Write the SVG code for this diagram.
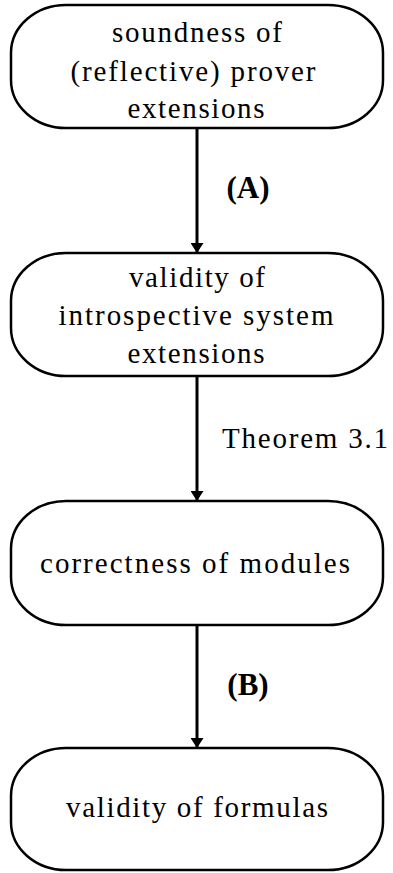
<svg xmlns="http://www.w3.org/2000/svg" width="393" height="873" viewBox="0 0 393 873">
<style>
.n{fill:#fff;stroke:#000;stroke-width:2.5}
.t{font-family:"Liberation Serif",serif;font-size:29px;text-anchor:middle;fill:#000}
.l{font-family:"Liberation Serif",serif;font-size:29px;fill:#000}
.b{font-weight:bold;text-anchor:middle;font-size:31px}
.e{stroke:#000;stroke-width:3;fill:none}
</style>
<defs>
<marker id="ah" viewBox="0 0 10 13" refX="10" refY="6.5" markerWidth="10" markerHeight="13" markerUnits="userSpaceOnUse" orient="auto">
<path d="M0,0 L10,6.5 L0,13 Z" fill="#000"/>
</marker>
</defs>
<rect width="393" height="873" fill="#fff"/>
<g id="edges">
<line class="e" x1="197" y1="128" x2="197" y2="253" marker-end="url(#ah)"/>
<line class="e" x1="197" y1="376" x2="197" y2="501" marker-end="url(#ah)"/>
<line class="e" x1="197" y1="625" x2="197" y2="748" marker-end="url(#ah)"/>
<text class="l b" x="248" y="198">(A)</text>
<text class="l" x="222" y="448" textLength="166" lengthAdjust="spacing">Theorem 3.1</text>
<text class="l b" x="248" y="695">(B)</text>
</g>
<g id="n1">
<rect class="n" x="11" y="5" width="372" height="123" rx="55" ry="48"/>
<text class="t" x="197" y="42" textLength="170" lengthAdjust="spacing">soundness of</text>
<text class="t" x="193" y="81" textLength="245" lengthAdjust="spacing">(reflective) prover</text>
<text class="t" x="196" y="118" textLength="137" lengthAdjust="spacing">extensions</text>
</g>
<g id="n2">
<rect class="n" x="11" y="253" width="372" height="123" rx="55" ry="48"/>
<text class="t" x="197" y="287" textLength="136" lengthAdjust="spacing">validity of</text>
<text class="t" x="196" y="325" textLength="275" lengthAdjust="spacing">introspective system</text>
<text class="t" x="196" y="363" textLength="137" lengthAdjust="spacing">extensions</text>
</g>
<g id="n3">
<rect class="n" x="11" y="501" width="372" height="124" rx="55" ry="48"/>
<text class="t" x="195" y="573" textLength="310" lengthAdjust="spacing">correctness of modules</text>
</g>
<g id="n4">
<rect class="n" x="11" y="748" width="372" height="122" rx="55" ry="48"/>
<text class="t" x="197" y="817" textLength="262" lengthAdjust="spacing">validity of formulas</text>
</g>
</svg>
